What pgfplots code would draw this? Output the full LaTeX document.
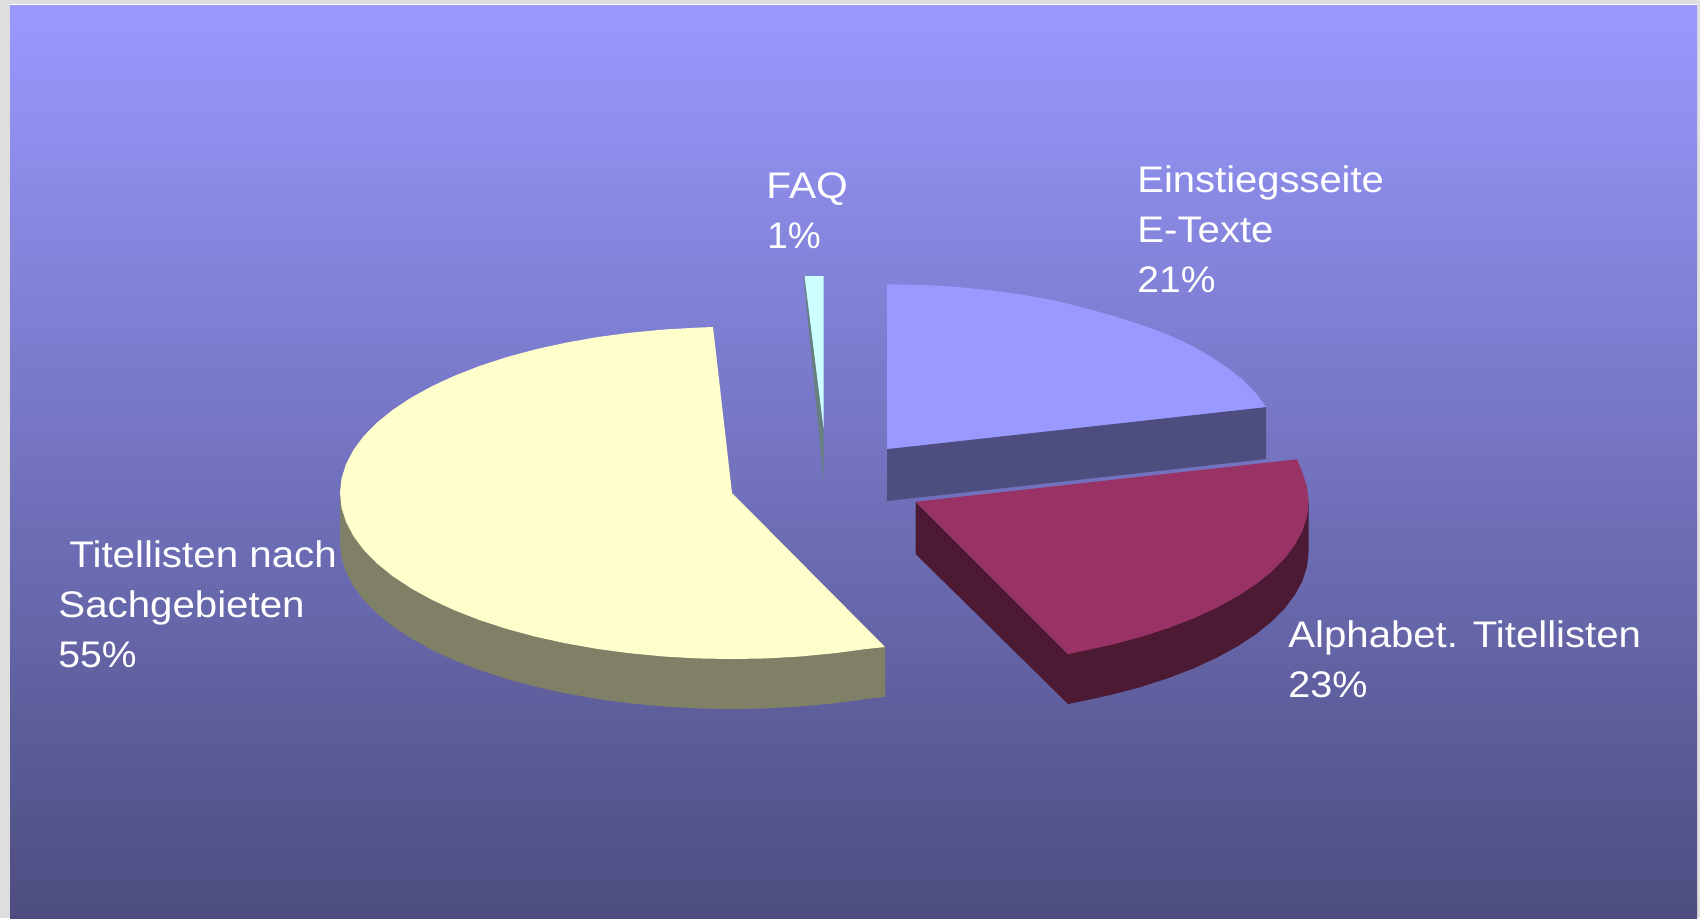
\documentclass[border=0pt]{standalone}
\usepackage{fontspec}
\setmainfont{Liberation Sans}
\usepackage{pgfplots}
\pgfplotsset{compat=1.18}
\definecolor{bgtop}{HTML}{9999FF}
\definecolor{bgbot}{HTML}{4D4D80}
\definecolor{margin}{HTML}{DEDEDE}
\definecolor{yeltop}{HTML}{FFFFCC}
\definecolor{yelside}{HTML}{808066}
\definecolor{martop}{HTML}{993366}
\definecolor{marside}{HTML}{4D1A33}
\definecolor{bluside}{HTML}{4D4D80}
\definecolor{cyantop}{HTML}{CCFFFF}
\definecolor{cyanside}{HTML}{668080}
\newcommand{\lab}[4]{\node[anchor=base west,inner sep=0pt,text=white] at (axis cs:#1,#2) {\fontsize{18.5pt}{18.5pt}\selectfont\scalebox{#3}[1]{#4}};}
\begin{document}
\begin{tikzpicture}
\begin{axis}[
  width=850pt, height=459pt, scale only axis,
  xmin=0, xmax=1700, ymin=0, ymax=918, y dir=reverse,
  hide axis, clip=true]
% page margins and background
\addplot[fill=margin,draw=none] coordinates {(0,0)(1700,0)(1700,918)(0,918)} -- cycle;
\addplot[fill=white,draw=none] coordinates {(10,4)(1697,4)(1697,6)(10,6)} -- cycle;
\addplot[shade,top color=bgtop,bottom color=bgbot,draw=none] coordinates {(10,5.5)(1697,5.5)(1697,918)(10,918)} -- cycle;
% Titellisten nach Sachgebieten 55%
\addplot[fill=yelside,draw=none] coordinates {(340,493)(340,543)(341.5,557.5)(346,571.8)(353.4,586)(363.6,599.8)(376.7,613.2)(392.5,626)(410.9,638.2)(431.7,649.7)(454.8,660.4)(480,670.2)(507.1,679)(536,686.8)(566.3,693.4)(598,699)(630.5,703.3)(664,706.5)(697.8,708.4)(732,709)(766.2,708.4)(800,706.5)(833.5,703.3)(866,699)(885,697)(885,647)(732,493)} -- cycle;
\addplot[fill=yeltop,draw=none] coordinates {(713,327)(697.8,327.6)(664,329.5)(630.5,332.7)(598,337)(566.3,342.6)(536,349.2)(507.1,357)(480,365.8)(454.8,375.6)(431.7,386.3)(410.9,397.8)(392.5,410)(376.7,422.8)(363.6,436.2)(353.4,450)(346,464.2)(341.5,478.5)(340,493)(341.5,507.5)(346,521.8)(353.4,536)(363.6,549.8)(376.7,563.2)(392.5,576)(410.9,588.2)(431.7,599.7)(454.8,610.4)(480,620.2)(507.1,629)(536,636.8)(566.3,643.4)(598,649)(630.5,653.3)(664,656.5)(697.8,658.4)(732,659)(766.2,658.4)(800,656.5)(833.5,653.3)(866,649)(885,647)(732,493)} -- cycle;
% FAQ 1%
\addplot[fill=cyanside,draw=none] coordinates {(803.5,276)(805,276)(823.5,428)(823.5,479)} -- cycle;
\addplot[fill=cyantop,draw=none] coordinates {(804.5,276)(823.5,276)(823.5,428)} -- cycle;
% Einstiegsseite E-Texte 21%
\addplot[fill=bluside,draw=none] coordinates {(887,449)(1266,407)(1266,459)(887,501)} -- cycle;
\addplot[fill=bgtop,draw=none] coordinates {(887,284.3)(921.2,284.8)(955,286.8)(988.5,290)(1021,294.5)(1052.7,300)(1083,307.5)(1111.9,315.5)(1139,324)(1164.2,333)(1187.3,343.5)(1208.1,355)(1226.5,367)(1242.3,379.3)(1255.4,392.6)(1266,407)(887,449)} -- cycle;
% Alphabet. Titellisten 23%
\addplot[fill=marside,draw=none] coordinates {(915.6,501.7)(915.6,554)(1068,704)(1081.7,701.2)(1112.1,694.6)(1141,686.9)(1168.2,678.1)(1193.5,668.4)(1216.6,657.8)(1237.5,646.3)(1255.9,634.2)(1271.8,621.4)(1284.9,608.1)(1295.2,594.4)(1302.6,580.4)(1307.1,566.1)(1308.6,551.7)(1308.6,501.7)(1068,654)} -- cycle;
\addplot[fill=martop,draw=none] coordinates {(915.6,501.7)(1297,459.3)(1302.6,473)(1307.1,487.3)(1308.6,501.7)(1307.1,516.1)(1302.6,530.4)(1295.2,544.4)(1284.9,558.1)(1271.8,571.4)(1255.9,584.2)(1237.5,596.3)(1216.6,607.8)(1193.5,618.4)(1168.2,628.1)(1141,636.9)(1112.1,644.6)(1081.7,651.2)(1068,654)} -- cycle;
% labels
\lab{766}{198}{1.10}{FAQ}
\lab{767}{248}{1.00}{1\%}
\lab{1137}{192}{1.08}{Einstiegsseite}
\lab{1137}{242}{1.085}{E-Texte}
\lab{1137}{292}{1.055}{21\%}
\lab{1288}{647}{1.085}{Alphabet. Titellisten}
\lab{1288}{697}{1.069}{23\%}
\lab{69}{567}{1.09}{Titellisten nach}
\lab{58}{617}{1.088}{Sachgebieten}
\lab{58}{667}{1.055}{55\%}
\end{axis}
\end{tikzpicture}
\end{document}
